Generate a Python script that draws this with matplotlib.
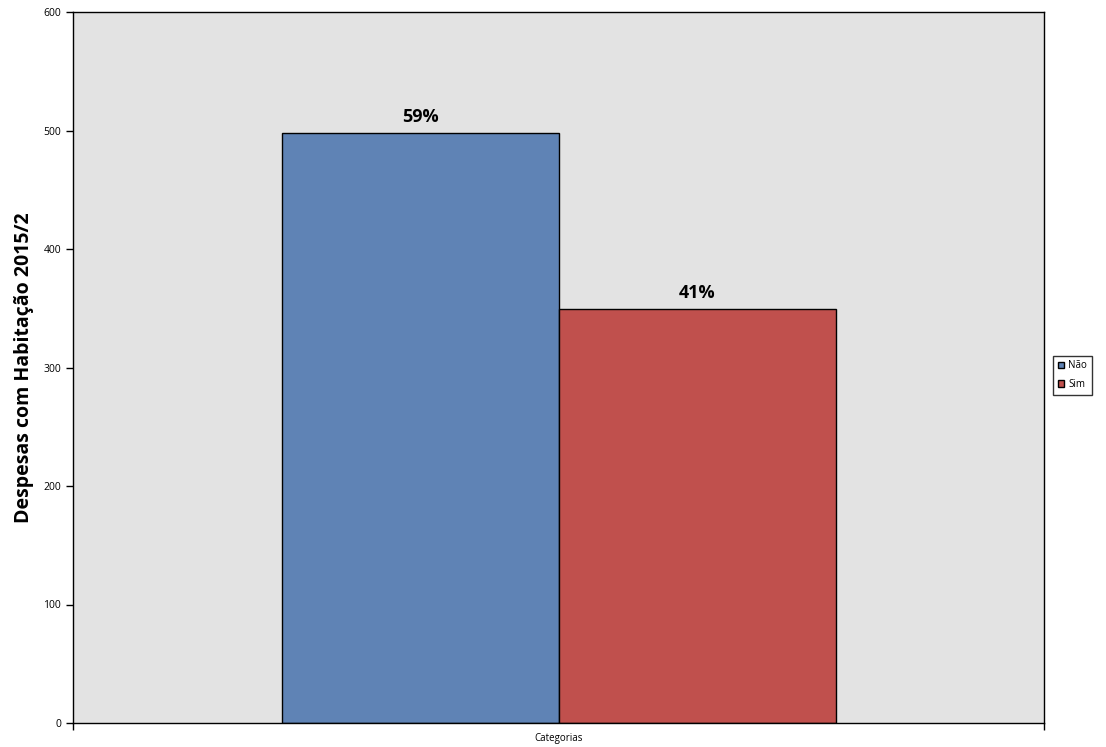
import matplotlib
matplotlib.use("Agg")
import matplotlib.pyplot as plt

categories = ["Não", "Sim"]
values = [498, 349]
labels = ["59%", "41%"]
colors = ["#5F83B5", "#C0504D"]

plt.rcParams["font.family"] = ["Open Sans", "DejaVu Sans"]

fig = plt.figure(figsize=(11.06, 7.47), dpi=100)
ax = fig.add_axes([73 / 1106, 24 / 747, 971 / 1106, 711 / 747])
ax.set_facecolor("#E3E3E3")

width = 277 / 971
positions = [-width / 2, width / 2]
for pos, val, lab, col, cat in zip(positions, values, labels, colors, categories):
    ax.bar(pos, val, width=width, color=col, edgecolor="black", linewidth=1, label=cat)
    ax.text(pos, val + 6, lab, ha="center", va="bottom", fontsize=13, fontweight="bold")

ax.set_xlim(-0.5, 0.5)
ax.set_ylim(0, 600)
ax.set_yticks(range(0, 601, 100))
ax.tick_params(axis="y", labelsize=7.5, length=5, width=1, direction="out")
ax.set_xticks([-0.5, 0.5])
ax.set_xticklabels(["", ""])
ax.tick_params(axis="x", length=5, width=1)
ax.set_xlabel("Categorias", fontsize=7)
ax.xaxis.set_label_coords(0.5, -10 / 711)
ax.set_ylabel("Despesas com Habitação 2015/2", fontsize=14, fontweight="bold")
ax.yaxis.set_label_coords(-39 / 971, 0.5)
for s in ax.spines.values():
    s.set_linewidth(1)
    s.set_color("black")

leg = ax.legend(loc="center left", bbox_to_anchor=(1.004, 0.489), fontsize=7,
                frameon=True, fancybox=False, edgecolor="black",
                handlelength=0.7, handleheight=0.7, handletextpad=0.4,
                borderpad=0.5, labelspacing=0.8)
leg.get_frame().set_linewidth(1)

fig.savefig("out.png", dpi=100)
